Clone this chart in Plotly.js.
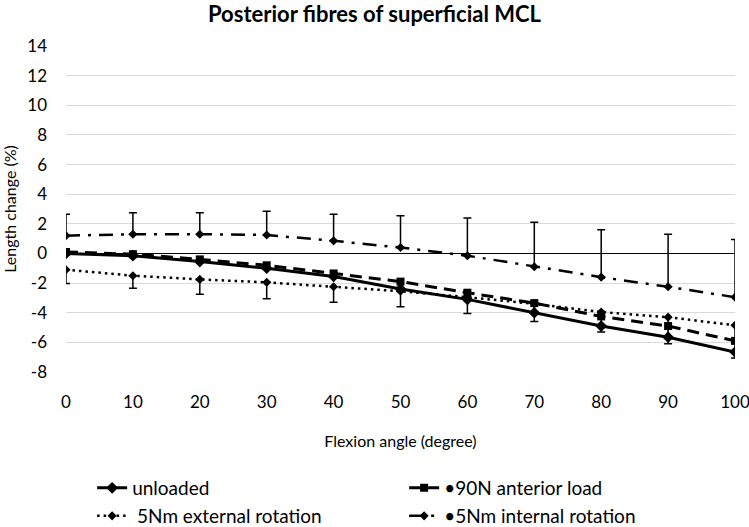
<!DOCTYPE html>
<html>
<head>
<meta charset="utf-8">
<script src="https://cdn.plot.ly/plotly-3.0.1.min.js"></script>
<style>
html,body{margin:0;padding:0;background:#fff;}
#chart{width:749px;height:527px;}
</style>
</head>
<body>
<div id="chart"></div>
<script>
// Flexion angles (degrees)
const flexionAngles = [0, 10, 20, 30, 40, 50, 60, 70, 80, 90, 100];

// Length change (%) per loading condition
const unloaded = [0.0, -0.15, -0.55, -1.0, -1.55, -2.4, -3.1, -4.0, -4.9, -5.65, -6.65];
const anteriorLoad90N = [0.1, -0.05, -0.4, -0.8, -1.35, -1.9, -2.65, -3.35, -4.25, -4.9, -5.9];
const externalRotation5Nm = [-1.1, -1.5, -1.75, -1.95, -2.25, -2.55, -2.95, -3.4, -3.95, -4.3, -4.85];
const internalRotation5Nm = [1.2, 1.3, 1.3, 1.25, 0.85, 0.4, -0.15, -0.9, -1.6, -2.25, -2.95];

// Error bars (SD): external rotation shown downward, internal rotation shown upward
const externalRotationErr = [0.92, 0.85, 1.0, 1.1, 1.05, 1.05, 1.1, 1.2, 1.35, 1.8, 2.2];
const internalRotationErr = [1.45, 1.45, 1.45, 1.6, 1.8, 2.15, 2.55, 3.0, 3.2, 3.55, 3.9];

const seriesNames = ['unloaded', '•90N anterior load', ' 5Nm external rotation', '•5Nm internal rotation'];
const yTicks = [-8, -6, -4, -2, 0, 2, 4, 6, 8, 10, 12, 14];

const FONT = 'Lato, "Open Sans", sans-serif';
const zeros = flexionAngles.map(() => 0);

const traces = [
  {
    x: flexionAngles, y: unloaded, name: seriesNames[0], type: 'scatter', mode: 'lines+markers',
    legend: 'legend',
    line: {color: '#000', width: 3, dash: 'solid'},
    marker: {symbol: 'diamond', size: 9, color: '#000'}
  },
  {
    x: flexionAngles, y: anteriorLoad90N, name: seriesNames[1], type: 'scatter', mode: 'lines+markers',
    legend: 'legend',
    line: {color: '#000', width: 3, dash: '12px,7px'},
    marker: {symbol: 'square', size: 8, color: '#000'}
  },
  {
    x: flexionAngles, y: externalRotation5Nm, name: seriesNames[2], type: 'scatter', mode: 'lines+markers',
    legend: 'legend2',
    line: {color: '#000', width: 2.5, dash: '2.5px,4px'},
    marker: {symbol: 'diamond', size: 7, color: '#000'},
    error_y: {type: 'data', symmetric: false, array: zeros, arrayminus: externalRotationErr,
              color: '#000', thickness: 1.5, width: 4}
  },
  {
    x: flexionAngles, y: internalRotation5Nm, name: seriesNames[3], type: 'scatter', mode: 'lines+markers',
    legend: 'legend2',
    line: {color: '#000', width: 2.5, dash: '14px,8px,3px,8px'},
    marker: {symbol: 'diamond', size: 7, color: '#000'},
    error_y: {type: 'data', symmetric: false, array: internalRotationErr, arrayminus: zeros,
              color: '#000', thickness: 1.5, width: 4}
  }
];

const legendCommon = {
  orientation: 'h', xref: 'container', x: 0.123, xanchor: 'left',
  yref: 'container', yanchor: 'middle',
  entrywidth: 267, entrywidthmode: 'pixels', itemwidth: 30,
  font: {family: FONT, size: 19, color: '#000'},
  bgcolor: 'rgba(0,0,0,0)'
};

const layout = {
  width: 749, height: 527,
  paper_bgcolor: '#fff', plot_bgcolor: '#fff',
  margin: {l: 66, r: 14, t: 46, b: 155, autoexpand: false},
  font: {family: FONT, size: 16, color: '#000'},
  title: {text: '<b>Posterior fibres of superficial MCL</b>', font: {family: FONT, size: 22, color: '#000'},
          x: 0.5, xanchor: 'center', yref: 'container', y: 0.972, yanchor: 'middle'},
  xaxis: {
    range: [0, 100], tickmode: 'array', tickvals: flexionAngles, ticktext: flexionAngles.map(String),
    showgrid: false, zeroline: false, showline: false, ticks: '',
    ticklabelstandoff: 18, ticklabeloverflow: 'allow',
    tickfont: {family: FONT, size: 17, color: '#000'},
    title: {text: 'Flexion angle (degree)', font: {family: FONT, size: 16, color: '#000'}, standoff: 24},
    fixedrange: true
  },
  yaxis: {
    range: [-8, 14], tickmode: 'array', tickvals: yTicks, ticktext: yTicks.map(String),
    showgrid: true, gridcolor: '#d9d9d9', gridwidth: 1,
    zeroline: true, zerolinecolor: '#000', zerolinewidth: 1.3,
    showline: false, ticks: '', ticklabelstandoff: 18,
    tickfont: {family: FONT, size: 17, color: '#000'},
    title: {text: 'Length change (%)', font: {family: FONT, size: 16, color: '#000'}, standoff: 12},
    fixedrange: true
  },
  showlegend: true,
  legend: Object.assign({}, legendCommon, {y: 1 - 488 / 527}),
  legend2: Object.assign({}, legendCommon, {y: 1 - 516 / 527})
};

Plotly.newPlot('chart', traces, layout, {displayModeBar: false, staticPlot: true});
</script>
</body>
</html>
